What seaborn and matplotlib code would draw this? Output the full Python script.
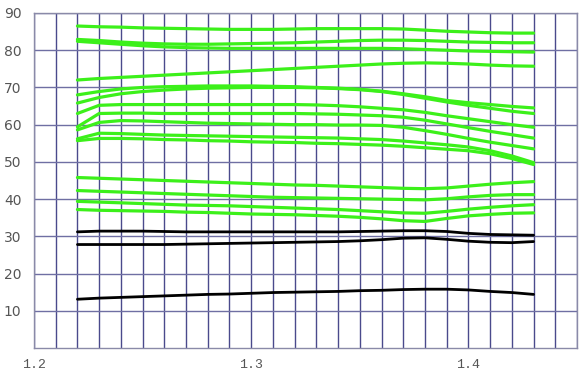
import matplotlib
matplotlib.use("Agg")
import matplotlib.pyplot as plt
import seaborn as sns
import pandas as pd
import numpy as np

x = [1.22, 1.23, 1.24, 1.25, 1.26, 1.27, 1.28, 1.29, 1.30, 1.31, 1.32,
     1.33, 1.34, 1.35, 1.36, 1.37, 1.38, 1.39, 1.40, 1.41, 1.42, 1.43]

G1 = [86.5, 86.3, 86.2, 86.0, 85.9, 85.8, 85.7, 85.6, 85.6, 85.6, 85.7, 85.8, 85.8, 85.8, 85.8, 85.7, 85.4, 85.1, 84.9, 84.7, 84.6, 84.6]
G2 = [82.9, 82.6, 82.2, 81.9, 81.7, 81.6, 81.6, 81.7, 81.8, 81.9, 82.0, 82.2, 82.4, 82.6, 82.7, 82.7, 82.6, 82.4, 82.2, 82.1, 82.0, 82.0]
G3 = [82.4, 82.0, 81.6, 81.2, 80.9, 80.7, 80.6, 80.5, 80.5, 80.5, 80.5, 80.5, 80.5, 80.5, 80.5, 80.4, 80.2, 80.0, 79.8, 79.7, 79.6, 79.5]
G4 = [72.0, 72.4, 72.7, 73.0, 73.3, 73.6, 73.9, 74.2, 74.5, 74.8, 75.1, 75.4, 75.7, 76.0, 76.3, 76.5, 76.6, 76.5, 76.3, 76.0, 75.8, 75.7]
G5 = [68.0, 68.9, 69.6, 70.0, 70.2, 70.3, 70.4, 70.4, 70.4, 70.3, 70.2, 70.0, 69.8, 69.5, 69.0, 68.3, 67.5, 66.5, 65.9, 65.4, 64.9, 64.5]
G6 = [65.8, 67.3, 68.3, 68.9, 69.3, 69.6, 69.8, 69.9, 70.0, 70.0, 70.0, 69.9, 69.7, 69.4, 68.9, 68.1, 67.1, 66.1, 65.2, 64.4, 63.6, 63.0]
G7 = [63.0, 65.2, 65.4, 65.4, 65.4, 65.4, 65.4, 65.4, 65.4, 65.4, 65.4, 65.3, 65.1, 64.8, 64.4, 64.0, 63.3, 62.4, 61.6, 60.8, 60.0, 59.3]
G8 = [59.4, 63.0, 63.1, 63.1, 63.0, 63.0, 63.0, 63.0, 63.0, 63.0, 63.0, 62.9, 62.8, 62.6, 62.4, 62.0, 61.2, 60.2, 59.2, 58.2, 57.3, 56.4]
G9 = [58.6, 60.6, 61.1, 61.0, 60.8, 60.6, 60.4, 60.3, 60.2, 60.1, 60.0, 60.0, 59.9, 59.9, 59.8, 59.3, 58.4, 57.4, 56.3, 55.3, 54.4, 53.5]
G10 = [56.2, 57.7, 57.6, 57.4, 57.2, 57.1, 57.0, 56.9, 56.8, 56.7, 56.6, 56.5, 56.4, 56.2, 56.0, 55.6, 55.1, 54.6, 54.0, 53.0, 51.6, 49.8]
G11 = [55.7, 56.3, 56.3, 56.2, 56.0, 55.9, 55.7, 55.6, 55.4, 55.3, 55.2, 55.0, 54.9, 54.7, 54.5, 54.2, 53.8, 53.4, 53.0, 52.2, 50.9, 49.3]
L1 = [45.8, 45.6, 45.4, 45.2, 45.0, 44.8, 44.6, 44.4, 44.2, 44.0, 43.8, 43.7, 43.5, 43.3, 43.1, 42.9, 42.8, 43.0, 43.5, 44.0, 44.4, 44.7]
L2 = [42.3, 42.1, 41.9, 41.7, 41.5, 41.3, 41.1, 40.9, 40.7, 40.5, 40.4, 40.3, 40.2, 40.1, 40.0, 39.9, 39.8, 40.1, 40.6, 41.0, 41.2, 41.2]
L3 = [39.4, 39.2, 39.0, 38.8, 38.6, 38.4, 38.3, 38.2, 38.0, 37.8, 37.6, 37.4, 37.2, 36.9, 36.6, 36.3, 36.2, 36.7, 37.3, 37.8, 38.2, 38.5]
L4 = [37.2, 37.0, 36.9, 36.8, 36.7, 36.5, 36.4, 36.2, 36.0, 35.9, 35.8, 35.6, 35.4, 35.1, 34.7, 34.2, 34.0, 34.8, 35.5, 35.9, 36.2, 36.3]
B1 = [31.2, 31.4, 31.4, 31.4, 31.3, 31.2, 31.2, 31.2, 31.2, 31.2, 31.2, 31.2, 31.2, 31.3, 31.4, 31.5, 31.5, 31.3, 30.8, 30.5, 30.4, 30.3]
B2 = [27.8, 27.8, 27.8, 27.8, 27.8, 27.9, 28.0, 28.1, 28.2, 28.3, 28.4, 28.5, 28.6, 28.8, 29.1, 29.5, 29.6, 29.2, 28.7, 28.4, 28.3, 28.6]
B3 = [13.1, 13.4, 13.6, 13.8, 14.0, 14.2, 14.4, 14.5, 14.7, 14.9, 15.0, 15.1, 15.2, 15.4, 15.5, 15.7, 15.8, 15.8, 15.6, 15.2, 14.9, 14.4]

green_series = {"G1": G1, "G2": G2, "G3": G3, "G4": G4, "G5": G5, "G6": G6,
                "G7": G7, "G8": G8, "G9": G9, "G10": G10, "G11": G11,
                "L1": L1, "L2": L2, "L3": L3, "L4": L4}
black_series = {"B1": B1, "B2": B2, "B3": B3}

x_ticks = [1.2, 1.3, 1.4]
x_tick_labels = ["1.2", "1.3", "1.4"]
y_ticks = [10, 20, 30, 40, 50, 60, 70, 80, 90]
y_tick_labels = ["10", "20", "30", "40", "50", "60", "70", "80", "90"]

def to_long(series):
    rows = []
    for name, vals in series.items():
        for xv, yv in zip(x, vals):
            rows.append({"x": xv, "y": yv, "series": name})
    return pd.DataFrame(rows)

df_g = to_long(green_series)
df_b = to_long(black_series)

sns.set_style("white")
fig = plt.figure(figsize=(5.81, 3.72), dpi=100)
ax = fig.add_axes([34 / 581, 24 / 372, 543 / 581, 335 / 372])

GREEN = "#3cf01a"
sns.lineplot(data=df_g, x="x", y="y", units="series", estimator=None,
             color=GREEN, lw=2.3, ax=ax, legend=False, sort=False)
sns.lineplot(data=df_b, x="x", y="y", units="series", estimator=None,
             color="black", lw=2.0, ax=ax, legend=False, sort=False)

ax.set_xlim(1.2, 1.45)
ax.set_ylim(0, 90)
ax.set_xticks(x_ticks)
ax.set_xticklabels(x_tick_labels, family="Liberation Mono", fontsize=9.5, color="#555555")
ax.set_xticks(np.round(np.arange(1.20, 1.4501, 0.01), 2), minor=True)
ax.set_yticks(y_ticks)
ax.set_yticklabels(y_tick_labels, fontsize=10, color="#555555")
ax.tick_params(axis="both", which="both", length=0)
ax.tick_params(axis="x", which="major", pad=8, labeltop=True, labelbottom=True)
ax.tick_params(axis="y", pad=9)
ax.xaxis.grid(True, which="both", color="#4a4a8c", lw=1.0)
ax.yaxis.grid(True, which="major", color="#6f6fa3", lw=1.0)
ax.set_axisbelow(True)
ax.set_xlabel("")
ax.set_ylabel("")
for s in ax.spines.values():
    s.set_color("#8a8aa8")
    s.set_linewidth(1.0)

fig.savefig("out.png", dpi=100)
